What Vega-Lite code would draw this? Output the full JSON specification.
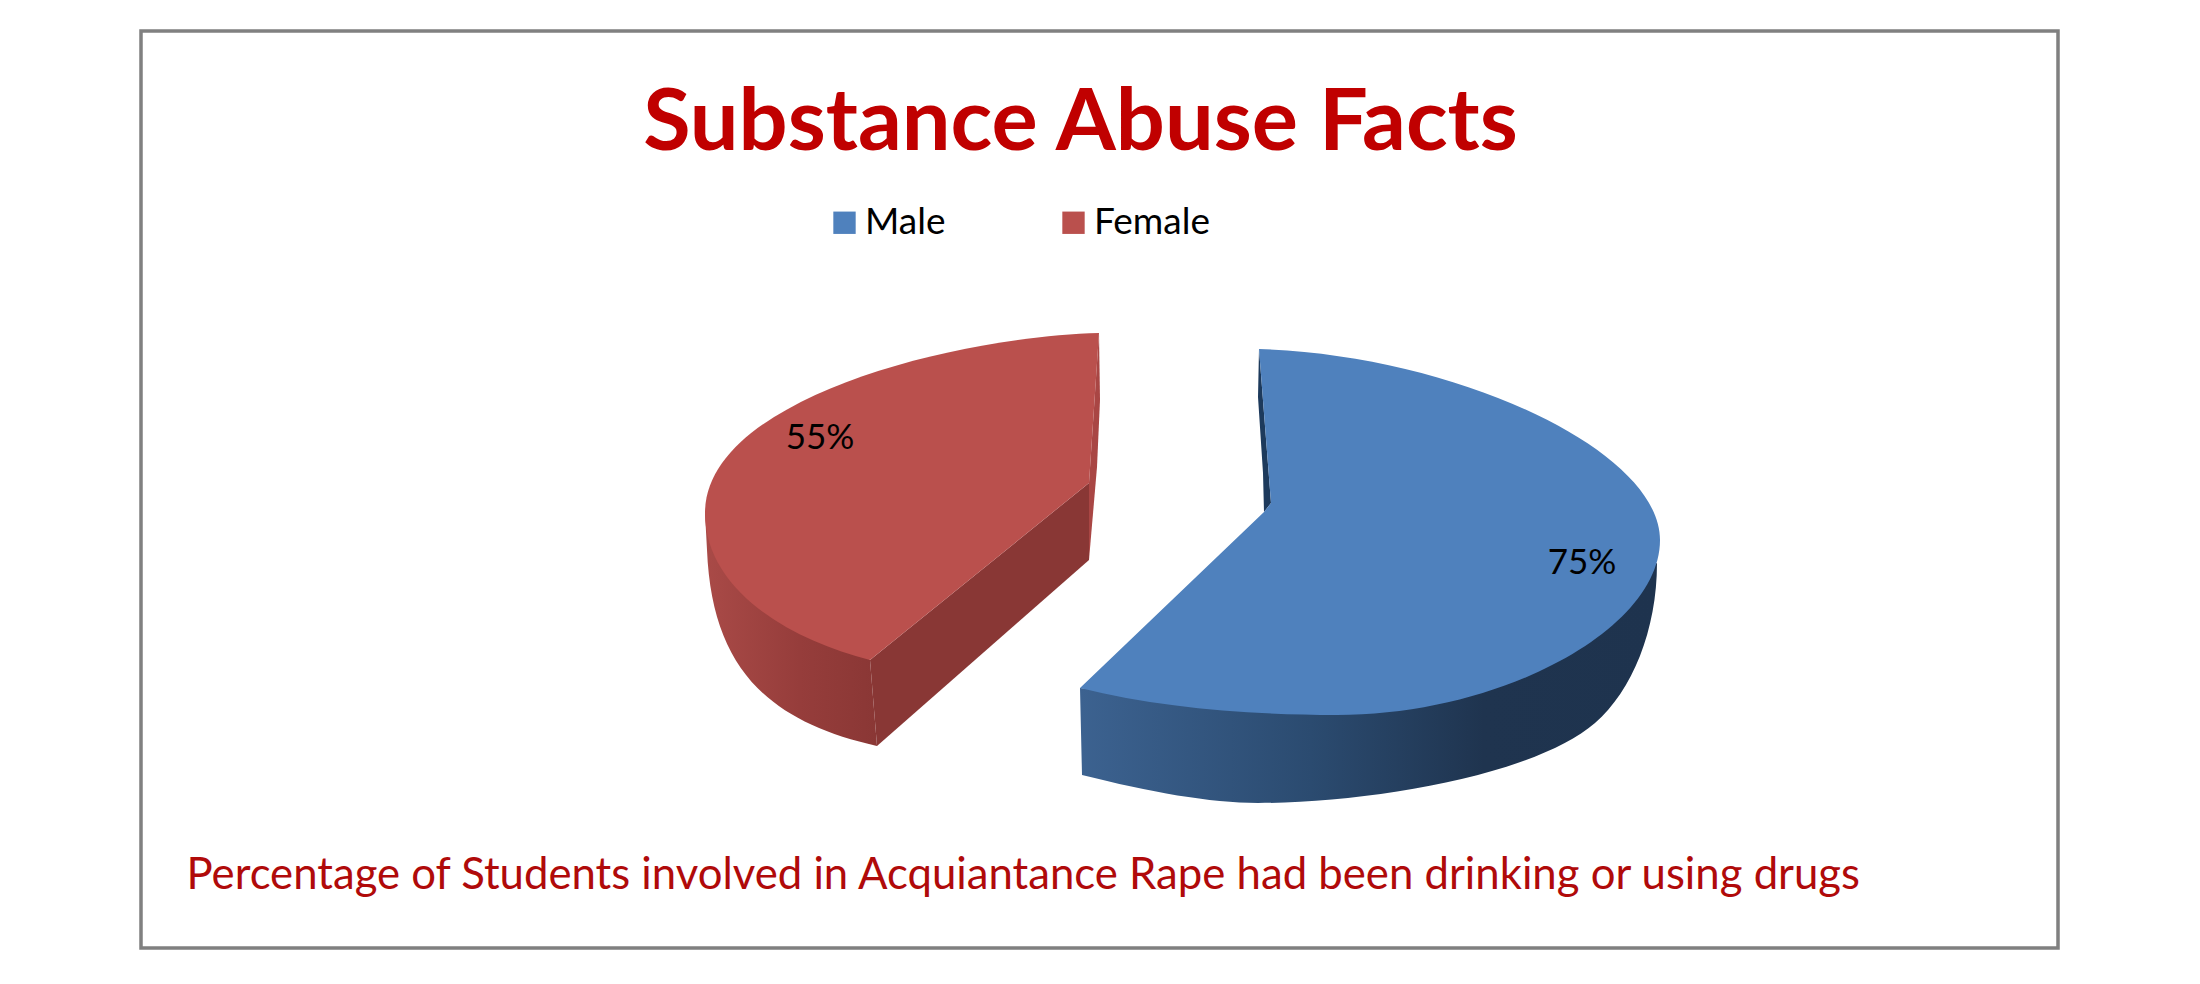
{
"$schema":"https://vega.github.io/schema/vega-lite/v6.json",
"width":1917,"height":917,
"autosize":{"type":"none"},
"padding":{"left":141,"top":31,"right":142,"bottom":36},
"background":"white",
"view":{"stroke":"#808080","strokeWidth":3.5,"fill":"white"},
"title":{"text":"Substance Abuse Facts","font":"Lato","fontSize":86.5,"fontWeight":"bold","color":"#C00000","anchor":"middle","frame":"group","baseline":"alphabetic","offset":0,"dx":-19,"dy":205},
"data":{"values":[{"gender":"Male","pct":0.75},{"gender":"Female","pct":0.55}]},
"encoding":{
 "x":{"field":"gender","type":"nominal","axis":null,"scale":{"type":"point","padding":0,"domain":["Female","Male"],"range":[759,1229]}},
 "y":{"field":"gender","type":"nominal","axis":null,"scale":{"type":"point","padding":0,"domain":["Female","Male"],"range":[469,529]}}
},
"layer":[
 {"transform":[{"filter":"datum.gender==='Female'"}],
  "mark":{"type":"point","filled":true,"opacity":1,"strokeWidth":0,"size":4,
   "shape":"M-195,13 L-193,50 C-188,170 -130,222 -23,246 L-30,160 Z",
   "fill":{"gradient":"linear","x1":0,"x2":1,"y1":0,"y2":0,"stops":[{"offset":0,"color":"#A94A47"},{"offset":0.55,"color":"#963D3B"},{"offset":1,"color":"#8A3735"}]}}},
 {"transform":[{"filter":"datum.gender==='Female'"}],
  "mark":{"type":"point","filled":true,"opacity":1,"strokeWidth":0,"size":4,"fill":"#893735",
   "shape":"M-30,160 L189,-17 L189,60 L-23,246 Z"}},
 {"transform":[{"filter":"datum.gender==='Female'"}],
  "mark":{"type":"point","filled":true,"opacity":1,"strokeWidth":0,"size":4,"fill":"#A94644",
   "shape":"M199,-167 L200,-100 L197,-33 L189,60 L189,-17 Z"}},
 {"transform":[{"filter":"datum.gender==='Male'"}],
  "mark":{"type":"point","filled":true,"opacity":1,"strokeWidth":0,"size":4,
   "shape":"M-290,128 L-288,215 C-220,232 -160,243 -112,243 C0,243 165,215 225,163 C262,131 287,70 287,3 L-33,155 Z",
   "fill":{"gradient":"linear","x1":0,"x2":1,"y1":0,"y2":0,"stops":[{"offset":0,"color":"#3C6290"},{"offset":0.4,"color":"#2B4B70"},{"offset":0.7,"color":"#1F344F"},{"offset":1,"color":"#1E334E"}]}}},
 {"transform":[{"filter":"datum.gender==='Male'"}],
  "mark":{"type":"point","filled":true,"opacity":1,"strokeWidth":0,"size":4,"fill":"#1D3A5C",
   "shape":"M-111,-211 L-112,-163 L-107,-87 L-106,-48 L-99,-57 Z"}},
 {"mark":{"type":"point","filled":true,"opacity":1,"strokeWidth":0,"size":4},
  "encoding":{
   "x":{"field":"gender","type":"nominal","scale":{"type":"point","padding":0,"domain":["Female","Male"],"range":[759,1229]},
    "axis":{"title":"Percentage of Students involved in Acquiantance Rape had been drinking or using drugs","titleFont":"Lato","titleFontSize":43.7,"titleFontWeight":"normal","titleColor":"#B00A0A","titleX":45,"titleY":-60,"titleAlign":"left","titleBaseline":"alphabetic","labels":false,"ticks":false,"domain":false,"grid":false}},
   "shape":{"field":"gender","type":"nominal","legend":null,"scale":{"domain":["Female","Male"],"range":[
     "M199,-167 L189,-17 L-30,160 C-110,140 -195,90 -195,13 C-195,-100 50,-163 199,-167 Z",
     "M-111,-211 L-99,-57 L-106,-48 L-290,128 C-210,148 -120,155 -33,155 C130,155 290,70 290,-20 C290,-110 85,-205 -111,-211 Z"]}},
   "color":{"field":"gender","type":"nominal","sort":["Male","Female"],
    "scale":{"domain":["Male","Female"],"range":["#4F81BD","#BA504D"]},
    "legend":{"title":null,"orient":"none","legendX":685,"legendY":173,"direction":"horizontal","columns":2,"gridAlign":"each","columnPadding":109,"symbolType":"square","symbolSize":500,"symbolStrokeWidth":0,"labelFont":"Lato","labelFontSize":37,"labelColor":"#000000","labelOffset":2}}
  }},
 {"mark":{"type":"text","font":"Lato","fontSize":35,"color":"#000000","align":"center","baseline":"middle"},
  "encoding":{
   "x":{"field":"gender","type":"nominal","axis":null,"scale":{"type":"point","padding":0,"domain":["Female","Male"],"range":[679,1441]}},
   "y":{"field":"gender","type":"nominal","axis":null,"scale":{"type":"point","padding":0,"domain":["Female","Male"],"range":[407,532]}},
   "text":{"field":"pct","type":"quantitative","format":".0%"}
  }}
],
"resolve":{"scale":{"x":"independent","y":"independent","color":"independent","shape":"independent"}}
}
